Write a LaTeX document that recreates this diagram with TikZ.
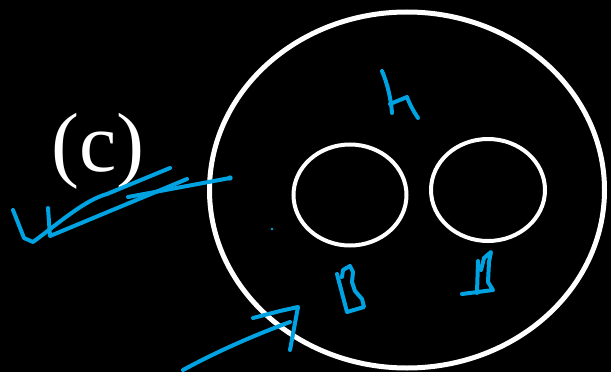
\documentclass[tikz,border=0pt]{standalone}
\usepackage{fontspec}
\setmainfont{Liberation Serif}
\usetikzlibrary{shapes.geometric}
\definecolor{ink}{RGB}{0,163,226}
\tikzset{
  ring/.style={ellipse,draw=white,line width=#1,inner sep=0pt},
  ring/.default=4pt,
  pen/.style={draw=ink,line width=4pt,line cap=round,line join=round},
}
\begin{document}
\begin{tikzpicture}[x=1pt,y=-1pt]
\fill[black] (0,0) rectangle (611,372);
\useasboundingbox (0,0) rectangle (611,372);
\node[ring=5pt,minimum width=395pt,minimum height=356pt] (U) at (407,190) {};
\node[ring,minimum width=113pt,minimum height=101pt] (A) at (350,195) {};
\node[ring,minimum width=114pt,minimum height=102pt] (B) at (488,190) {};
\node[text=white,font=\fontsize{84}{90}\selectfont,inner sep=0pt] (lbl) at (98,151) {(c)};
% handwritten strokes
\draw[pen] (13,210) -- (24,238) -- (33,242) .. controls (60,222) and (85,200) .. (107,194) -- (170,168);
\draw[pen] (48,208) -- (50,236) -- (187,179);
\draw[pen] (128,197) -- (230,178);
\fill[ink] (230,178) circle (2.7pt);
% mu
\draw[pen] (382,71) .. controls (388,85) and (391,100) .. (392,113);
\draw[pen] (390,104) -- (407,97) .. controls (410,105) and (414,112) .. (418,118);
% left B
\draw[pen] (337,274) -- (347,312) -- (364,307) -- (362,299) -- (355,291) -- (352,282) -- (353,272) -- (350,266) -- (343,270) -- (342,277);
% right B
\draw[pen] (478,261) -- (477,293);
\draw[pen] (462,294) -- (493,290) -- (488,282) -- (489,262) -- (491,252) -- (484,258) -- (481,270);
% arrow
\draw[pen] (183,370) .. controls (220,350) and (255,335) .. (290,322);
\draw[pen] (253,318) -- (280,311) -- (298,307) -- (290,350);
\fill[ink] (272,229) circle (1.4pt);
\end{tikzpicture}
\end{document}
